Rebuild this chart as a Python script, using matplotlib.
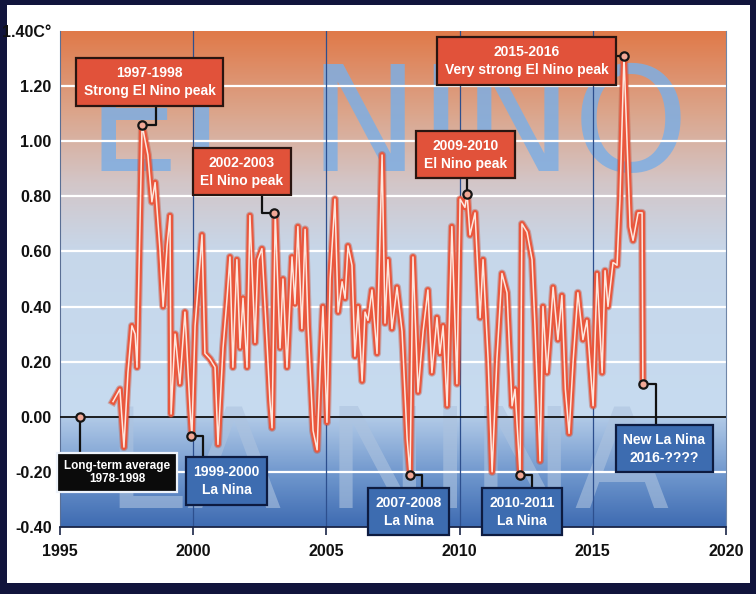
import matplotlib
matplotlib.use('Agg')

import numpy as np
import matplotlib.pyplot as plt
from matplotlib.colors import LinearSegmentedColormap
from matplotlib.patches import Rectangle

# Anomalia mensual de temperatura
anios = [1996.99, 1997.25, 1997.40, 1997.55, 1997.70, 1997.82, 1997.89, 1998.08, 1998.30, 1998.45,
         1998.57, 1998.75, 1998.87, 1999.02, 1999.13, 1999.17, 1999.32, 1999.50, 1999.69, 1999.88,
         1999.95, 2000.07, 2000.33, 2000.44, 2000.63, 2000.82, 2000.93, 2001.12, 2001.27, 2001.38,
         2001.49, 2001.64, 2001.76, 2001.87, 2002.02, 2002.13, 2002.32, 2002.43, 2002.58, 2002.77,
         2002.88, 2002.96, 2003.08, 2003.26, 2003.37, 2003.52, 2003.71, 2003.82, 2003.93, 2004.08,
         2004.20, 2004.31, 2004.50, 2004.65, 2004.76, 2004.87, 2005.02, 2005.14, 2005.32, 2005.44,
         2005.59, 2005.70, 2005.81, 2005.96, 2006.07, 2006.19, 2006.34, 2006.45, 2006.56, 2006.71,
         2006.90, 2007.09, 2007.20, 2007.31, 2007.46, 2007.65, 2007.84, 2008.03, 2008.14, 2008.25,
         2008.44, 2008.63, 2008.81, 2008.96, 2009.15, 2009.26, 2009.38, 2009.53, 2009.71, 2009.90,
         2010.02, 2010.20, 2010.28, 2010.39, 2010.58, 2010.77, 2010.88, 2011.07, 2011.22, 2011.40,
         2011.59, 2011.78, 2011.97, 2012.08, 2012.27, 2012.34, 2012.53, 2012.72, 2012.83, 2013.02,
         2013.13, 2013.28, 2013.39, 2013.51, 2013.69, 2013.84, 2013.97, 2014.11, 2014.26, 2014.44,
         2014.63, 2014.78, 2015.01, 2015.16, 2015.35, 2015.46, 2015.57, 2015.76, 2015.91, 2016.02,
         2016.17, 2016.40, 2016.51, 2016.70, 2016.85, 2016.88]
anomalia = [0.055, 0.10, -0.11, 0.16, 0.33, 0.30, 0.18, 1.06, 0.95, 0.78,
            0.85, 0.61, 0.40, 0.62, 0.73, 0.01, 0.30, 0.12, 0.38, 0.03,
            -0.07, 0.33, 0.66, 0.23, 0.21, 0.18, -0.10, 0.25, 0.43, 0.58,
            0.18, 0.57, 0.25, 0.43, 0.18, 0.73, 0.27, 0.57, 0.61, 0.27,
            0.06, -0.04, 0.74, 0.25, 0.50, 0.18, 0.58, 0.41, 0.69, 0.32,
            0.68, 0.33, -0.05, -0.12, 0.16, 0.40, -0.02, 0.50, 0.79, 0.38,
            0.49, 0.43, 0.62, 0.55, 0.22, 0.40, 0.13, 0.38, 0.35, 0.46,
            0.23, 0.95, 0.34, 0.57, 0.32, 0.47, 0.31, -0.08, -0.21, 0.58,
            0.09, 0.31, 0.46, 0.16, 0.36, 0.23, 0.33, 0.04, 0.69, 0.12,
            0.79, 0.76, 0.81, 0.66, 0.74, 0.36, 0.57, 0.21, -0.20, 0.21,
            0.52, 0.45, 0.04, 0.10, -0.21, 0.70, 0.67, 0.57, 0.33, -0.16,
            0.40, 0.16, 0.30, 0.47, 0.28, 0.44, 0.10, -0.06, 0.20, 0.45,
            0.28, 0.35, 0.04, 0.52, 0.16, 0.53, 0.40, 0.56, 0.55, 0.79,
            1.31, 0.69, 0.64, 0.74, 0.74, 0.12]

# Puntos anotados
etiquetas = ['1997-1998\nStrong El Nino peak', '2002-2003\nEl Nino peak',
             '2015-2016\nVery strong El Nino peak', '2009-2010\nEl Nino peak',
             'Long-term average\n1978-1998', '1999-2000\nLa Nina',
             '2007-2008\nLa Nina', '2010-2011\nLa Nina', 'New La Nina\n2016-????']
marca_x = [1998.08, 2003.03, 2016.17, 2010.28, 1995.75, 1999.92, 2008.14, 2012.27, 2016.88]
marca_y = [1.06, 0.74, 1.31, 0.81, 0.00, -0.07, -0.21, -0.21, 0.12]

x_ticks = [1995, 2000, 2005, 2010, 2015, 2020]
y_ticks = [-0.4, -0.2, 0.0, 0.2, 0.4, 0.6, 0.8, 1.0, 1.2, 1.4]
y_labels = ['-0.40', '-0.20', '0.00', '0.20', '0.40', '0.60', '0.80', '1.00', '1.20', '1.40C°']

# Diseño de las cajas: (centro x, centro y, codo x, tipo, tamaño)
cajas = [
    (1998.36, 1.215, 1998.60, 'rojo', 10),
    (2001.83, 0.889, 2002.58, 'rojo', 10),
    (2012.51, 1.291, None, 'rojo', 10),
    (2010.22, 0.951, 2010.28, 'rojo', 10),
    (1997.14, -0.202, 1995.75, 'negro', 8.5),
    (2001.25, -0.233, 2000.37, 'azul', 10),
    (2008.08, -0.345, 2008.59, 'azul', 10),
    (2012.34, -0.345, 2012.72, 'azul', 10),
    (2017.69, -0.116, 2017.37, 'azul', 10),
]
estilos = {
    'rojo': dict(fc='#e1523a', ec='#2a1510'),
    'azul': dict(fc='#3d6cb0', ec='#0d1b40'),
    'negro': dict(fc='#0b0b0b', ec='#eef3fa'),
}

fuente = ['Liberation Sans', 'DejaVu Sans']

fig = plt.figure(figsize=(7.56, 5.94), dpi=100)
fig.patch.set_facecolor('#11143c')
fig.patches.append(Rectangle((7 / 756, 11 / 594), 743 / 756, 578 / 594,
                             transform=fig.transFigure, facecolor='white',
                             edgecolor='none', zorder=-10))

ax = fig.add_axes([60 / 756, 67 / 594, 666 / 756, 496 / 594])
ax.set_xlim(1995, 2020)
ax.set_ylim(-0.4, 1.4)

# Fondo degradado
stops = [(0.0, '#3f6cb2'), (0.10, '#6d95cc'), (0.2222, '#b3cbe8'), (0.2232, '#c6dbf0'),
         (0.556, '#c7d7ea'), (0.694, '#d3c6c8'), (0.833, '#dba68d'), (1.0, '#e07a4a')]
cmap = LinearSegmentedColormap.from_list('fondo', stops)
grad = np.linspace(0, 1, 600).reshape(-1, 1)
ax.imshow(grad, extent=[1995, 2020, -0.4, 1.4], origin='lower', aspect='auto',
          cmap=cmap, zorder=0, interpolation='bicubic')

# Letras de fondo
ax.text(2007.3, 1.04, 'EL NINO', fontsize=106, color='#7eaee3', alpha=0.85,
        ha='center', va='center', family='DejaVu Sans', zorder=1)
ax.text(2007.3, -0.19, 'LA NINA', fontsize=100, color='#adc3df', alpha=0.6,
        ha='center', va='center', family='DejaVu Sans', zorder=1)

# Rejilla
for yv in y_ticks[1:-1]:
    if yv != 0:
        ax.axhline(yv, color='white', lw=1.6, zorder=2)
for xv in x_ticks[1:-1]:
    ax.axvline(xv, color='#2d4f8e', lw=0.9, zorder=2)
ax.axhline(0, color='#111111', lw=1.3, zorder=3)

# Serie
ax.plot(anios, anomalia, color='#b8452f', lw=5.8, alpha=0.35, zorder=4, solid_joinstyle='round')
ax.plot(anios, anomalia, color='#ea573d', lw=4.2, zorder=5, solid_joinstyle='round')
ax.plot(anios, anomalia, color='#fde8df', lw=1.1, zorder=6, solid_joinstyle='round')

# Anotaciones
for etiqueta, mx, my, (bx, by, ex, tipo, fs) in zip(etiquetas, marca_x, marca_y, cajas):
    if ex is None:
        xs, ys = [mx, bx], [my, my]
    else:
        xs, ys = [mx, ex, ex], [my, my, by]
    ax.plot(xs, ys, color='#111111', lw=1.6, zorder=7, clip_on=False)
    ax.plot(mx, my, 'o', ms=6, mfc='#f2a896', mec='#151515', mew=1.6, zorder=9, clip_on=False)
    st = estilos[tipo]
    ax.text(bx, by, etiqueta, ha='center', va='center', color='white', fontsize=fs,
            fontweight='bold', family=fuente, linespacing=1.35 if tipo != 'negro' else 1.15,
            zorder=8,
            bbox=dict(boxstyle='square,pad=0.55', fc=st['fc'], ec=st['ec'], lw=1.6))

# Ejes
ax.set_xticks(x_ticks)
ax.set_yticks(y_ticks)
ax.set_yticklabels(y_labels)
ax.tick_params(axis='x', length=6, width=1.2, color='#1a2547', pad=6)
ax.tick_params(axis='y', length=0, pad=6)
for lbl in ax.get_xticklabels() + ax.get_yticklabels():
    lbl.set_family(fuente)
    lbl.set_fontweight('bold')
    lbl.set_fontsize(11.5)
    lbl.set_color('#111111')

ax.spines['top'].set_visible(False)
ax.spines['bottom'].set_color('#1a2547')
ax.spines['bottom'].set_linewidth(1.3)
ax.spines['left'].set_color('#5a6f95')
ax.spines['left'].set_linewidth(0.8)
ax.spines['right'].set_color('#6f86a8')
ax.spines['right'].set_linewidth(0.8)

plt.savefig('out.png', dpi=100, facecolor=fig.get_facecolor())
plt.close()
